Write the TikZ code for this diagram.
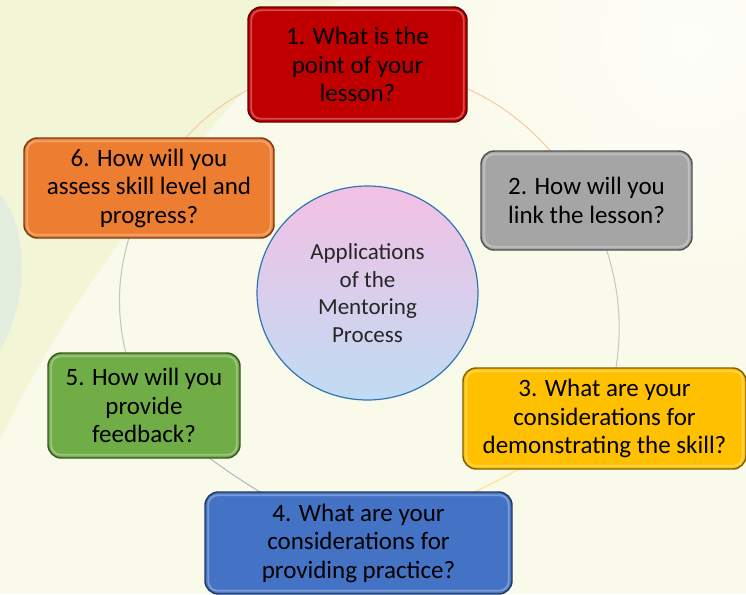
\documentclass[tikz,border=0pt]{standalone}
\usepackage{fontspec}
\setmainfont{Carlito}
\usetikzlibrary{shapes.geometric,calc}
\pgfdeclarelayer{background}
\pgfsetlayers{background,main}

\definecolor{bgbase}{RGB}{250,250,234}
\definecolor{bggreen}{RGB}{242,245,214}
\definecolor{bgswoosh}{RGB}{220,235,226}
\definecolor{boxred}{RGB}{192,0,0}
\definecolor{boxgray}{RGB}{165,165,165}
\definecolor{boxyellow}{RGB}{255,192,0}
\definecolor{boxblue}{RGB}{68,114,196}
\definecolor{boxgreen}{RGB}{112,173,71}
\definecolor{boxorange}{RGB}{237,125,49}
\definecolor{hubtop}{RGB}{243,192,228}
\definecolor{hubbottom}{RGB}{192,220,243}
\definecolor{hubline}{RGB}{46,117,182}
\definecolor{arcpeach}{RGB}{246,204,168}
\definecolor{arcgray}{RGB}{200,200,198}
\definecolor{arcyellow}{RGB}{255,226,140}
\definecolor{arcslate}{RGB}{178,186,196}
\definecolor{arcsage}{RGB}{192,202,188}

\tikzset{
  qbox/.style={draw=#1!50!black, fill=#1, rounded corners=10pt, line width=1.1pt,
    align=center, inner sep=0pt, text=black,
    font=\fontsize{18.75}{21.4}\selectfont},
  hub/.style={ellipse, draw=hubline, line width=0.9pt, top color=hubtop,
    bottom color=hubbottom, minimum width=165.75pt, minimum height=160.5pt,
    inner sep=0pt, align=center, text=black!85,
    font=\fontsize{17.25}{20.8}\selectfont},
  ring/.style={line width=0.8pt},
  gloss/.style={white, opacity=0.3, line width=1.4pt, rounded corners=7pt}
}

\begin{document}
\begin{tikzpicture}[x=0.75pt,y=0.75pt,yscale=-1,xscale=1]
\useasboundingbox (0,0) rectangle (746,594);

% centre
\node[hub] (hub) at (367.5,293) {Applications\\of the\\Mentoring\\Process};

% question boxes
\node[qbox=boxred, minimum width=164.25pt, minimum height=86.25pt] (b1) at (357.5,64.5) {1. What is the\\point of your\\lesson?};
\node[qbox=boxgray, minimum width=158.25pt, minimum height=74.25pt] (b2) at (586.5,200.5) {2. How will you\\link the lesson?};
\node[qbox=boxyellow, minimum width=212.25pt, minimum height=75.75pt] (b3) at (604.5,418.5) {3. What are your\\considerations for\\demonstrating the skill?};
\node[qbox=boxblue, minimum width=230.25pt, minimum height=76.5pt] (b4) at (358.5,543) {4. What are your\\considerations for\\providing practice?};
\node[qbox=boxgreen, minimum width=144pt, minimum height=78.75pt] (b5) at (144,405.5) {5. How will you\\provide\\feedback?};
\node[qbox=boxorange, minimum width=187.5pt, minimum height=75pt] (b6) at (149,188) {6. How will you\\assess skill level and\\progress?};

% bevel
\foreach \n in {b1,b2,b3,b4,b5,b6}
  \draw[gloss] ($(\n.north west)+(4,4)$) rectangle ($(\n.south east)+(-4,-4)$);

\begin{pgfonlayer}{background}
  \begin{scope}
    \clip (0,0) rectangle (746,594);
    \fill[bgbase] (0,0) rectangle (746,594);
    \fill[bggreen] (0,0) -- (340,0) .. controls (210,110) and (70,290) .. (0,440) -- cycle;
    \fill[bgswoosh, opacity=0.7] (0,195) .. controls (28,225) and (30,300) .. (0,350) -- cycle;
    \shade[inner color=bgbase!25!white, outer color=bgbase] (690,40) circle (260);
  \end{scope}
  % cycle arcs
  \draw[ring, arcpeach] (b1.center) to[bend right=28] (b2.center);
  \draw[ring, arcgray] (b2.center) to[bend right=21] (b3.center);
  \draw[ring, arcyellow] (b3.center) to[bend right=5] (b4.center);
  \draw[ring, arcslate] (b4.center) to[bend right=8] (b5.center);
  \draw[ring, arcsage] (b5.center) to[bend right=25] (b6.center);
  \draw[ring, arcpeach] (b6.center) to[bend right=29] (b1.center);
\end{pgfonlayer}

\end{tikzpicture}
\end{document}
